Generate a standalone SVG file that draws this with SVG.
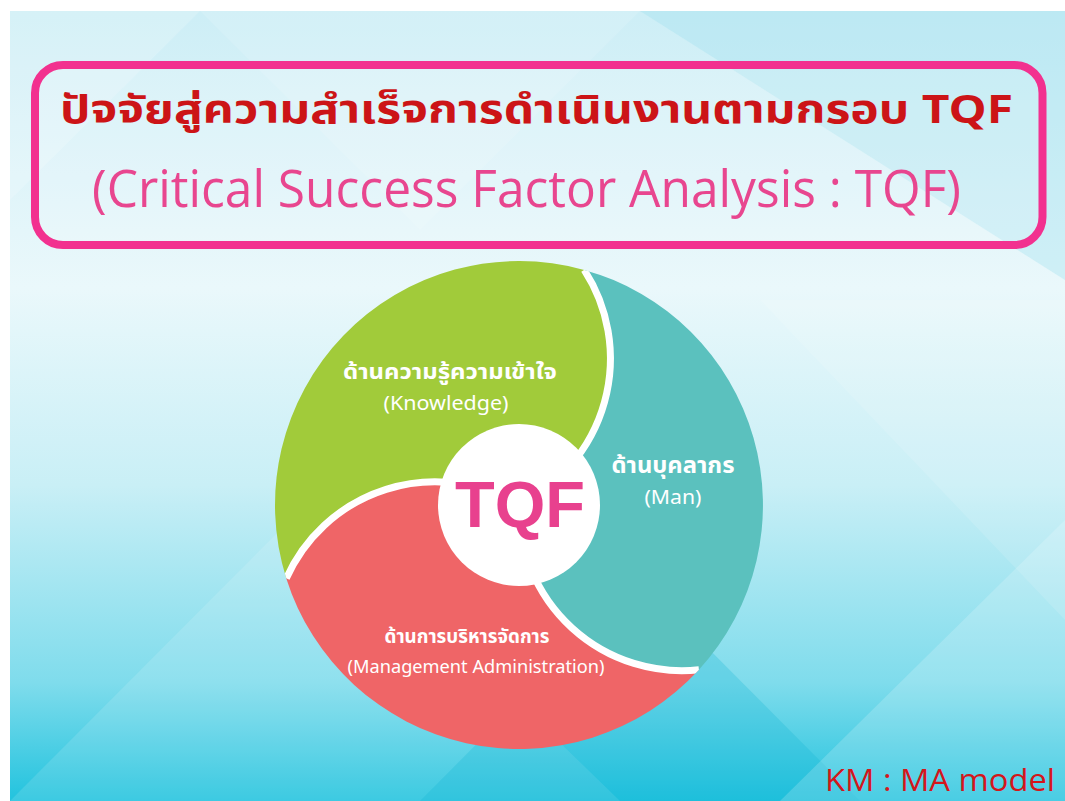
<svg xmlns="http://www.w3.org/2000/svg" width="1065" height="801" viewBox="0 0 1065 801">
  <defs>
    <linearGradient id="bg" x1="0" y1="0" x2="0" y2="1">
      <stop offset="0" stop-color="#cdeef6"/>
      <stop offset="0.35" stop-color="#eaf8fb"/>
      <stop offset="0.6" stop-color="#c9eff6"/>
      <stop offset="0.85" stop-color="#7fdcec"/>
      <stop offset="1" stop-color="#22c3de"/>
    </linearGradient>
    <clipPath id="disc"><circle cx="519" cy="505" r="244"/></clipPath>
    <style>
      .thai { font-family: 'Noto Sans Thai', 'Noto Sans', 'Noto Sans CJK SC', sans-serif; }
      .lbl { fill: #ffffff; text-anchor: middle; }
      .sep { fill: none; stroke: #ffffff; stroke-width: 7; }
    </style>
  </defs>

  <rect x="0" y="0" width="1065" height="801" fill="#ffffff"/>
  <g id="background">
    <rect x="10" y="11" width="1055" height="790" fill="url(#bg)"/>
    <polygon points="10,11 200,11 10,200" fill="#ffffff" opacity="0.18"/>
    <polygon points="200,11 640,11 420,230" fill="#ffffff" opacity="0.12"/>
    <polygon points="640,11 1065,11 1065,280" fill="#9fe0ee" opacity="0.35"/>
    <polygon points="10,801 310,500 620,801" fill="#ffffff" opacity="0.12"/>
    <polygon points="420,801 640,580 860,801" fill="#0fb5d3" opacity="0.25"/>
    <polygon points="780,801 1065,520 1065,801" fill="#ffffff" opacity="0.18"/>
    <polygon points="760,300 1065,300 1065,620" fill="#ffffff" opacity="0.12"/>
  </g>

  <g id="title">
    <rect x="35" y="65" width="1007.5" height="180" rx="28" ry="28" fill="#ffffff" fill-opacity="0.15" stroke="#f2318f" stroke-width="8"/>
    <text x="536.5" y="123" class="thai" font-size="39" font-weight="bold" fill="#cc1417" text-anchor="middle" textLength="953" lengthAdjust="spacingAndGlyphs">ปัจจัยสู่ความสำเร็จการดำเนินงานตามกรอบ TQF</text>
    <text x="526.5" y="207" font-family="'Open Sans', 'Noto Sans', sans-serif" font-size="51" fill="#e8468f" text-anchor="middle" textLength="869" lengthAdjust="spacingAndGlyphs">(Critical Success Factor Analysis : TQF)</text>
  </g>

  <g id="node-knowledge">
    <path d="M584.2 269.9 A244 244 0 0 0 286.3 578.4 A163 163 0 0 1 519 505 A163 163 0 0 0 584.2 269.9 Z" fill="#a1cb3a"/>
    <text x="450" y="379" class="thai lbl" font-size="22" font-weight="bold" textLength="214" lengthAdjust="spacingAndGlyphs">ด้านความรู้ความเข้าใจ</text>
    <text x="446" y="410" class="thai lbl" font-size="19" textLength="125" lengthAdjust="spacingAndGlyphs">(Knowledge)</text>
  </g>

  <g id="node-man">
    <path d="M698.9 669.8 A244 244 0 0 0 584.2 269.9 A163 163 0 0 1 519 505 A163 163 0 0 0 698.9 669.8 Z" fill="#5bc1be"/>
    <text x="673" y="473" class="thai lbl" font-size="23" font-weight="bold" textLength="123" lengthAdjust="spacingAndGlyphs">ด้านบุคลากร</text>
    <text x="673" y="504" class="thai lbl" font-size="20" textLength="57" lengthAdjust="spacingAndGlyphs">(Man)</text>
  </g>

  <g id="node-management">
    <path d="M286.3 578.4 A244 244 0 0 0 698.9 669.8 A163 163 0 0 1 519 505 A163 163 0 0 0 286.3 578.4 Z" fill="#ef6567"/>
    <text x="467" y="643" class="thai lbl" font-size="19" font-weight="bold" textLength="165" lengthAdjust="spacingAndGlyphs">ด้านการบริหารจัดการ</text>
    <text x="476" y="673" class="thai lbl" font-size="18" textLength="257" lengthAdjust="spacingAndGlyphs">(Management Administration)</text>
  </g>

  <g id="connectors" clip-path="url(#disc)">
    <path class="sep" d="M584.2 269.9 A163 163 0 0 1 519 505"/>
    <path class="sep" d="M286.3 578.4 A163 163 0 0 1 519 505"/>
    <path class="sep" d="M698.9 669.8 A163 163 0 0 1 519 505"/>
  </g>

  <g id="node-tqf">
    <circle cx="519" cy="505" r="81" fill="#ffffff"/>
    <text x="520" y="527" font-family="'Liberation Sans', Arial, sans-serif" font-size="65" font-weight="bold" fill="#e8418e" text-anchor="middle">TQF</text>
  </g>

  <g id="footer">
    <text x="1055" y="791" font-family="'Open Sans', 'Noto Sans', sans-serif" font-size="31" fill="#d4161b" text-anchor="end" textLength="230" lengthAdjust="spacingAndGlyphs">KM : MA model</text>
  </g>
</svg>
